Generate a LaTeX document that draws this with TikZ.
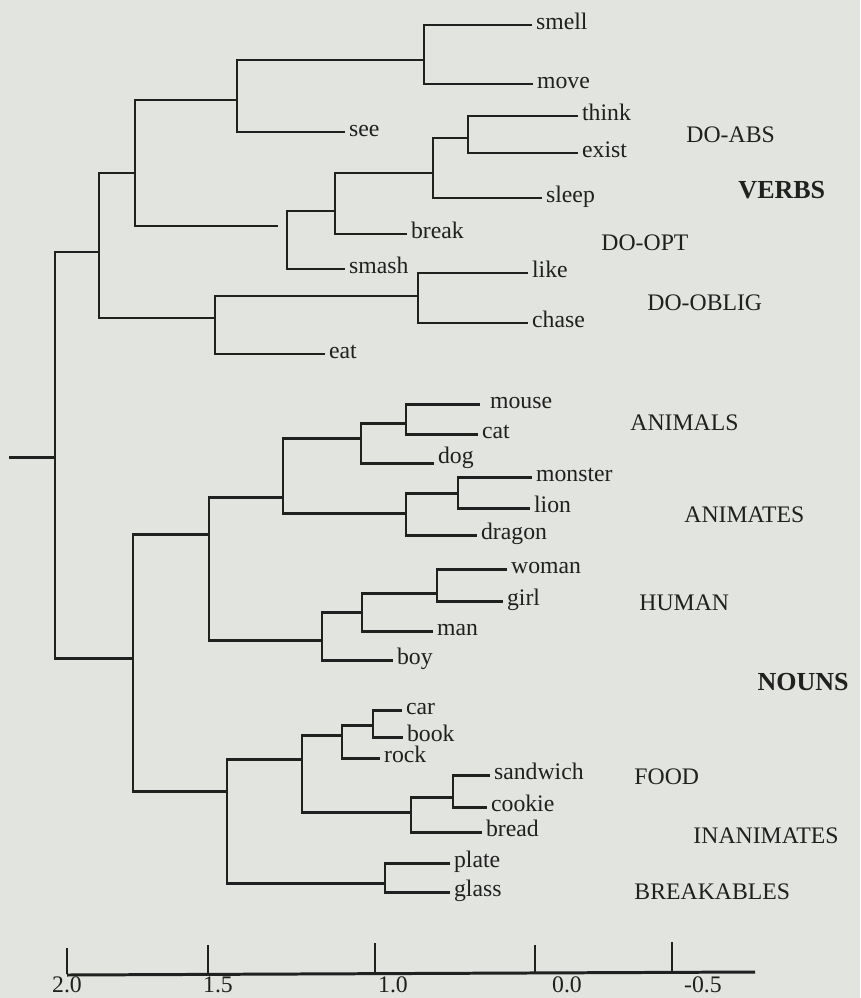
\documentclass[tikz,border=0pt]{standalone}
\usepackage{fontspec}
\setmainfont{Liberation Serif}
\usepackage{xcolor}
\usepackage{tikz}

\definecolor{paper}{RGB}{226,228,223}
\definecolor{ink}{RGB}{32,32,32}

\begin{document}
\begin{tikzpicture}[x=0.02cm, y=-0.02cm, line width=1.7pt, color=ink,
  every node/.style={font=\fontsize{13.5}{16}\selectfont},
  leaf/.style={anchor=mid west, inner xsep=1.5pt, inner ysep=0pt},
  group/.style={anchor=west, inner sep=0pt},
  bold group/.style={group, font=\fontsize{14.8}{17}\selectfont\bfseries},
  scale label/.style={anchor=center, inner sep=0pt}]
  \fill[paper] (0,0) rectangle (860,998);
  \useasboundingbox (0,0) rectangle (860,998);

  % leaves: verbs
  \node[leaf] (smell) at (532,25)  {smell};
  \node[leaf] (move)  at (533,84)  {move};
  \node[leaf] (see)   at (345,132) {see};
  \node[leaf] (think) at (578,116) {think};
  \node[leaf] (exist) at (578,153) {exist};
  \node[leaf] (sleep) at (542,198) {sleep};
  \node[leaf] (break) at (407,234) {break};
  \node[leaf] (smash) at (345,269) {smash};
  \node[leaf] (like)  at (528,273) {like};
  \node[leaf] (chase) at (528,323) {chase};
  \node[leaf] (eat)   at (325,354) {eat};

  % leaves: nouns
  \node[leaf] (mouse)    at (486,404) {mouse};
  \node[leaf] (cat)      at (478,434) {cat};
  \node[leaf, anchor=base west] (dog) at (434,463) {dog};
  \node[leaf] (monster)  at (532,477) {monster};
  \node[leaf] (lion)     at (530,508) {lion};
  \node[leaf] (dragon)   at (477,535) {dragon};
  \node[leaf] (woman)    at (507,569) {woman};
  \node[leaf] (girl)     at (503,601) {girl};
  \node[leaf] (man)      at (433,631) {man};
  \node[leaf] (boy)      at (393,660) {boy};
  \node[leaf] (car)      at (402,710) {car};
  \node[leaf] (book)     at (403,737) {book};
  \node[leaf] (rock)     at (380,758) {rock};
  \node[leaf] (sandwich) at (490,775) {sandwich};
  \node[leaf] (cookie)   at (487,807) {cookie};
  \node[leaf] (bread)    at (482,832) {bread};
  \node[leaf] (plate)    at (450,863) {plate};
  \node[leaf] (glass)    at (450,892) {glass};

  % joins: (x of the bar, y where the parent meets it)
  \coordinate (sm)  at (424,60);
  \coordinate (ss)  at (237,100);
  \coordinate (te)  at (468,138);
  \coordinate (ts)  at (433,173);
  \coordinate (tb)  at (335,211);
  \coordinate (bs)  at (287,226);
  \coordinate (vs)  at (135,173);
  \coordinate (lc)  at (418,296);
  \coordinate (le)  at (215,318);
  \coordinate (V)   at (99,252);
  \coordinate (mc)  at (406,423);
  \coordinate (md)  at (361,438);
  \coordinate (ml)  at (458,493);
  \coordinate (mld) at (406,513);
  \coordinate (an)  at (283,497);
  \coordinate (wg)  at (437,593);
  \coordinate (wm)  at (362,612);
  \coordinate (hu)  at (322,640);
  \coordinate (ah)  at (209,534);
  \coordinate (cb)  at (373,725);
  \coordinate (cr)  at (342,735);
  \coordinate (sc)  at (453,797);
  \coordinate (fo)  at (411,812);
  \coordinate (cf)  at (302,759);
  \coordinate (pg)  at (385,883);
  \coordinate (in)  at (227,791);
  \coordinate (N)   at (133,658);
  \coordinate (R)   at (55,457);
  \coordinate (stub) at (9,457);

  % brackets
  \foreach \a/\j/\b in {smell.mid west/sm/move.mid west, sm/ss/see.mid west,
      think.mid west/te/exist.mid west, te/ts/sleep.mid west,
      ts/tb/break.mid west, tb/bs/smash.mid west,
      like.mid west/lc/chase.mid west, lc/le/eat.mid west, vs/V/le,
      md/an/mld, monster.mid west/ml/lion.mid west, ml/mld/dragon.mid west,
      woman.mid west/wg/girl.mid west, wg/wm/man.mid west, wm/hu/boy.mid west,
      an/ah/hu, car.mid west/cb/book.mid west, cb/cr/rock.mid west,
      sandwich.mid west/sc/cookie.mid west, sc/fo/bread.mid west, cr/cf/fo,
      plate.mid west/pg/glass.mid west, cf/in/pg, ah/N/in, V/R/N}
    \draw (\a) -| (\j) |- (\b);
  \draw[shorten >=0.18cm] (ss) -| (vs) |- (bs);
  \draw[shorten <=0.12cm] (mouse.mid west) -| (mc) |- (cat.mid west);
  \draw (mc) -| (md) |- (dog.base west);
  \draw (stub) -- (R);

  % group labels
  \node[group]      (DA) at (685,135) {DO-ABS};
  \node[bold group] (VB) at (737,190) {VERBS};
  \node[group]      (DP) at (600,243) {DO-OPT};
  \node[group]      (DO) at (646,303) {DO-OBLIG};
  \node[group]      (AL) at (629,423) {ANIMALS};
  \node[group]      (AT) at (683,515) {ANIMATES};
  \node[group]      (HM) at (638,603) {HUMAN};
  \node[bold group] (NB) at (756,682) {NOUNS};
  \node[group]      (FD) at (633,777) {FOOD};
  \node[group]      (IN) at (692,836) {INANIMATES};
  \node[group]      (BK) at (633,892) {BREAKABLES};

  % scale
  \draw (67,975) -- (755,972);
  \foreach \x/\t in {67/948, 208/945, 375/943, 535/945, 672/942}
    \draw (\x,\t) -- (\x,974);
  \foreach \x/\v in {67/2.0, 218/1.5, 393/1.0, 567/0.0, 703/-0.5}
    \node[scale label] at (\x,985) {\v};
\end{tikzpicture}
\end{document}
